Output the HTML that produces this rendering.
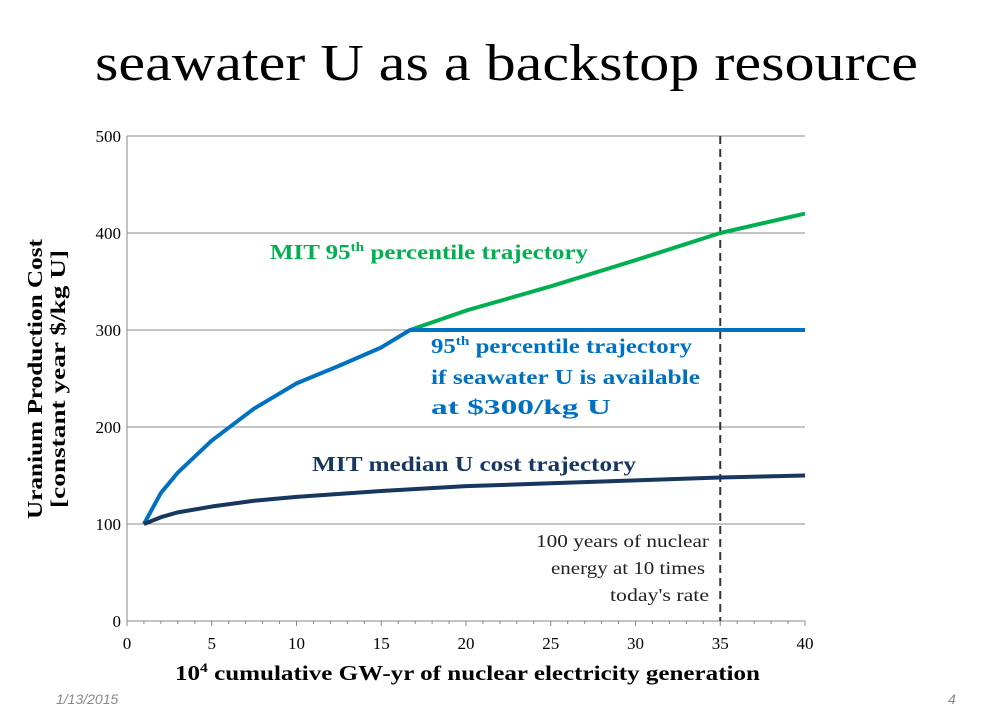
<!DOCTYPE html>
<html><head><meta charset="utf-8"><style>
body{margin:0;width:1005px;height:719px;background:#fff;overflow:hidden;font-family:"Liberation Serif",serif}
</style></head><body>
<svg width="1005" height="719">
<text x="95" y="80" font-size="52" textLength="823" lengthAdjust="spacingAndGlyphs" fill="#000">seawater U as a backstop resource</text>
<g id="grid"></g>
<g id="axes"></g>
<g id="series"></g>
<text x="270" y="259" font-size="21" font-weight="bold" fill="#00b050" textLength="318" lengthAdjust="spacingAndGlyphs">MIT 95<tspan font-size="13" dy="-8">th</tspan><tspan dy="8"> percentile trajectory</tspan></text>
<g font-size="21" font-weight="bold" fill="#0070c0">
<text x="431" y="353" textLength="261" lengthAdjust="spacingAndGlyphs">95<tspan font-size="13" dy="-8">th</tspan><tspan dy="8"> percentile trajectory</tspan></text>
<text x="431" y="384" textLength="269" lengthAdjust="spacingAndGlyphs">if seawater U is available</text>
<text x="431" y="414" textLength="180" lengthAdjust="spacingAndGlyphs">at $300/kg U</text></g>
<text x="312" y="471" font-size="21" font-weight="bold" fill="#17375e" textLength="324" lengthAdjust="spacingAndGlyphs">MIT median U cost trajectory</text>
<g font-size="18" fill="#222">
<text x="536" y="547" textLength="173" lengthAdjust="spacingAndGlyphs">100 years of nuclear</text><text x="551" y="574" textLength="154" lengthAdjust="spacingAndGlyphs">energy at 10 times</text><text x="610" y="601" textLength="99" lengthAdjust="spacingAndGlyphs">today's rate</text></g>
<text x="175" y="680" font-size="21" font-weight="bold" textLength="585" lengthAdjust="spacingAndGlyphs">10<tspan font-size="13" dy="-8">4</tspan><tspan dy="8"> cumulative GW-yr of nuclear electricity generation</tspan></text>
<g transform="translate(42,379) rotate(-90)" font-size="21" font-weight="bold" text-anchor="middle">
<text x="0" y="0" textLength="280" lengthAdjust="spacingAndGlyphs">Uranium Production Cost</text><text x="0" y="23" textLength="258" lengthAdjust="spacingAndGlyphs">[constant year $/kg U]</text></g>
<text x="56" y="704" font-size="14" font-style="italic" fill="#888" font-family="Liberation Sans,sans-serif">1/13/2015</text>
<text x="948" y="704" font-size="14" font-style="italic" fill="#888" font-family="Liberation Sans,sans-serif">4</text>
</svg>
<script>
const yTicks=[0,100,200,300,400,500];
const xTicks=[0,5,10,15,20,25,30,35,40];
const medX=[1,2,3,5,7.5,10,15,20,25,30,35,40];
const medY=[100,107,112,118,124,128,134,139,142,145,148,150];
const blueX=[1,2,3,5,7.5,10,12.5,15,16.7,20,30,40];
const blueY=[100,132,153,186,219,245,263,282,300,300,300,300];
const greenX=[16.7,20,25,30,35,40];
const greenY=[300,320,345,372,400,420];
const refX=35;
const NS='http://www.w3.org/2000/svg';
const X=v=>127+v*16.95, Y=v=>621-v*0.97;
function mk(p,t,a){const e=document.createElementNS(NS,t);for(const k in a)e.setAttribute(k,a[k]);document.getElementById(p).appendChild(e);return e;}
yTicks.forEach(t=>{
 const l=mk('grid','line',{x1:X(0),x2:X(40),y1:Y(t),y2:Y(t),stroke:'#888','stroke-width':1});
 
 
 const s=mk('axes','text',{x:X(0)-6,y:Y(t)+6,'font-size':17,'text-anchor':'end'});s.textContent=t;
 
 
});
mk('axes','line',{x1:X(0),x2:X(0),y1:Y(0),y2:Y(500),stroke:'#888'});
for(let i=0;i<=40;i++){mk('axes','line',{x1:X(i),x2:X(i),y1:Y(0),y2:Y(0)+(i%5?3:5),stroke:'#888'});}
xTicks.forEach(t=>{const s=mk('axes','text',{x:X(t),y:Y(0)+28,'font-size':17,'text-anchor':'middle'});s.textContent=t;
 
 });
const d=mk('series','line',{x1:X(refX),x2:X(refX),y1:Y(500),y2:Y(0),stroke:'#333','stroke-width':2,'stroke-dasharray':'8,5'});


function pl(xs,ys,c,n){const p=mk('series','polyline',{points:xs.map((x,i)=>X(x)+','+Y(ys[i])).join(' '),fill:'none',stroke:c,'stroke-width':4,'stroke-linejoin':'round'});
 
 }
pl(greenX,greenY,'#00b050','mit-95th-line');
pl(blueX,blueY,'#0070c0','seawater-95th-line');
pl(medX,medY,'#17375e','median-line');
</script>
</body></html>
